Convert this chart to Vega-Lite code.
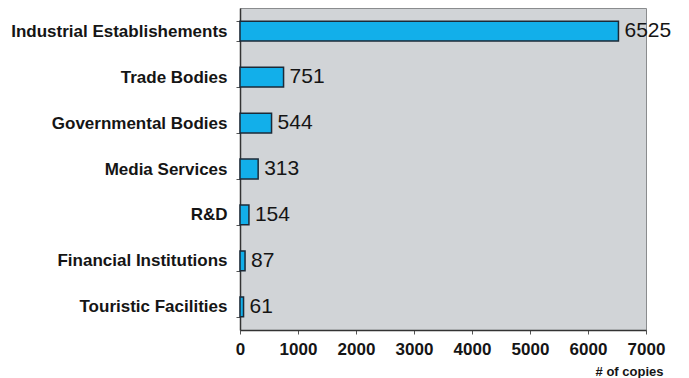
{
  "$schema": "https://vega.github.io/schema/vega-lite/v6.json",
  "width": 406,
  "height": 322,
  "autosize": {"type": "none"},
  "padding": {"left": 240, "top": 8, "right": 43, "bottom": 48},
  "background": "white",
  "view": {"fill": "#d1d4d7", "stroke": "#8a8c8e", "strokeWidth": 1},
  "data": {
    "values": [
      {"category": "Industrial Establishements", "copies": 6525},
      {"category": "Trade Bodies", "copies": 751},
      {"category": "Governmental Bodies", "copies": 544},
      {"category": "Media Services", "copies": 313},
      {"category": "R&D", "copies": 154},
      {"category": "Financial Institutions", "copies": 87},
      {"category": "Touristic Facilities", "copies": 61}
    ]
  },
  "encoding": {
    "y": {
      "field": "category",
      "type": "nominal",
      "sort": null,
      "scale": {"paddingInner": 0.57, "paddingOuter": 0.29},
      "axis": {
        "title": null,
        "labelFont": "Liberation Sans",
        "labelFontWeight": "bold",
        "labelFontSize": 17,
        "labelColor": "#151515",
        "labelPadding": 9,
        "labelLimit": 300,
        "tickBand": "extent",
        "tickSize": 4,
        "tickColor": "#555555",
        "domainColor": "#333333",
        "domainWidth": 1.5
      }
    },
    "x": {
      "field": "copies",
      "type": "quantitative",
      "scale": {"domain": [0, 7000], "nice": false},
      "axis": {
        "title": "# of copies",
        "titleFont": "Liberation Sans",
        "titleFontWeight": "bold",
        "titleFontSize": 13,
        "titleAnchor": "end",
        "titleAlign": "right",
        "titleBaseline": "alphabetic",
        "titleX": 423,
        "titleY": 45,
        "titleColor": "#151515",
        "values": [0, 1000, 2000, 3000, 4000, 5000, 6000, 7000],
        "format": "d",
        "labelFont": "Liberation Sans",
        "labelFontWeight": "bold",
        "labelFontSize": 17,
        "labelColor": "#151515",
        "labelPadding": 7,
        "labelFlush": false,
        "labelOverlap": false,
        "grid": false,
        "tickSize": 4,
        "tickColor": "#555555",
        "domainColor": "#333333",
        "domainWidth": 1.5
      }
    }
  },
  "layer": [
    {
      "mark": {"type": "bar", "fill": "#12afea", "stroke": "#1b2a38", "strokeWidth": 1.5}
    },
    {
      "mark": {"type": "text", "align": "left", "dx": 6, "font": "Liberation Sans", "fontSize": 21, "color": "#151515"},
      "encoding": {"text": {"field": "copies", "type": "quantitative", "format": "d"}}
    }
  ]
}
